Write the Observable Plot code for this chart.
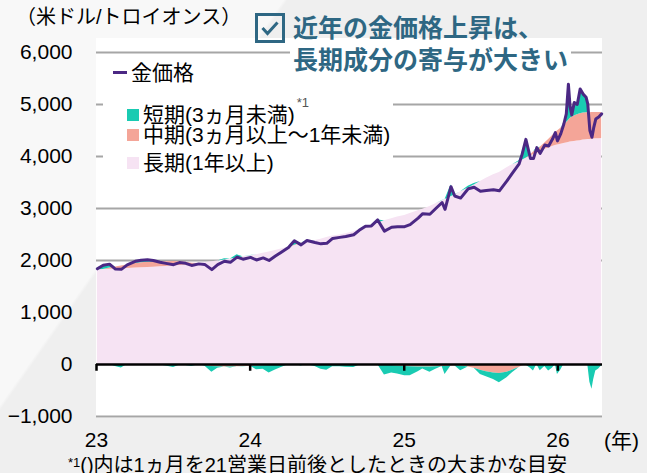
<!DOCTYPE html>
<html><head><meta charset="utf-8">
<script src="https://cdn.jsdelivr.net/npm/d3@7"></script>
<script src="https://cdn.jsdelivr.net/npm/@observablehq/plot@0.6"></script>
<style>
html,body{margin:0;padding:0;}
body{width:647px;height:473px;overflow:hidden;background:#efefef;}
#wrap{position:relative;width:647px;height:473px;overflow:hidden;
  font-family:"Liberation Sans","Noto Sans CJK JP",sans-serif;color:#000;
  background:linear-gradient(125deg,#f8f8f8 0%,#f8f8f8 29%,#efefef 29.4%,#efefef 100%);}
#plotbg{position:absolute;left:96px;top:38px;width:506px;height:380px;background:#fff;}
#chart{position:absolute;left:0;top:0;}
.abs{position:absolute;white-space:nowrap;line-height:1;}
#unit{left:16px;top:7px;font-size:20px;}
#title{left:255px;top:13px;color:#2e6783;font-weight:bold;font-size:25px;z-index:5;}
#t1{position:absolute;left:38px;top:3px;white-space:nowrap;line-height:1;}
#t2{position:absolute;left:35px;top:33px;white-space:nowrap;line-height:1;background:#fff;padding:2px 3px 4px 3px;}
#legend{left:103px;top:58px;width:290px;height:120px;background:#fff;font-size:21px;z-index:2;}
.li{position:absolute;left:0;white-space:nowrap;line-height:1;height:21px;}
.sw{display:inline-block;width:12px;height:12px;margin-right:4px;vertical-align:1px;}
#year{left:604px;top:430px;font-size:21px;}
#foot{left:68px;top:455px;font-size:20px;}
</style></head>
<body><div id="wrap">
<div id="plotbg"></div>
<div id="chart"></div>
<div class="abs" id="unit">（米ドル/トロイオンス）</div>
<div class="abs" id="legend"></div>
<div class="abs" id="title">
 <svg width="31" height="31" style="position:absolute;left:0;top:0"><rect x="1.5" y="1.5" width="27" height="27" fill="none" stroke="#2e6783" stroke-width="3"/><path d="M7.5 15 L12.5 20.5 L22.5 9.5" fill="none" stroke="#2e6783" stroke-width="3"/></svg>
 <div id="t1">近年の金価格上昇は、</div>
 <div id="t2">長期成分の寄与が大きい</div>
</div>
<div class="abs" id="year">(年)</div>
<div class="abs" id="foot"><span style="font-size:13px;vertical-align:5px">*1</span>()内は1ヵ月を21営業日前後としたときの大まかな目安</div>
</div>
<script>
// ---- data ----
const dates = ["2023-01-03","2023-01-17","2023-02-01","2023-02-15","2023-03-01","2023-03-15","2023-04-03","2023-04-17","2023-05-02","2023-05-16","2023-06-01","2023-06-15","2023-07-03","2023-07-17","2023-08-01","2023-08-15","2023-09-01","2023-09-15","2023-10-02","2023-10-16","2023-11-01","2023-11-15","2023-12-01","2023-12-15",
"2024-01-02","2024-01-16","2024-02-01","2024-02-15","2024-03-01","2024-03-15","2024-04-01","2024-04-15","2024-05-01","2024-05-15","2024-06-03","2024-06-17","2024-07-01","2024-07-15","2024-08-01","2024-08-15","2024-09-03","2024-09-16","2024-10-01","2024-10-15","2024-10-30","2024-11-15","2024-12-02","2024-12-16",
"2025-01-02","2025-01-15","2025-02-03","2025-02-14","2025-03-03","2025-03-17","2025-04-01","2025-04-08","2025-04-22","2025-05-01","2025-05-15","2025-06-02","2025-06-16","2025-07-01","2025-07-15","2025-08-01","2025-08-15","2025-09-02","2025-09-15","2025-10-01","2025-10-08","2025-10-17","2025-10-28","2025-11-04","2025-11-12","2025-11-20","2025-12-01","2025-12-10","2025-12-19","2025-12-26","2025-12-31",
"2026-01-08","2026-01-15","2026-01-21","2026-01-26","2026-01-30","2026-02-03","2026-02-09","2026-02-16","2026-02-23","2026-03-02","2026-03-09","2026-03-13","2026-03-18","2026-03-23","2026-03-27","2026-04-01","2026-04-08","2026-04-15"];
const goldPrice = [1840,1910,1930,1835,1830,1915,1985,2005,2015,2000,1965,1945,1920,1960,1945,1905,1935,1925,1825,1920,1985,1965,2065,2025,
2060,2010,2050,2000,2085,2160,2250,2380,2300,2385,2345,2320,2330,2425,2445,2460,2495,2580,2660,2665,2780,2565,2640,2650,
2650,2690,2815,2900,2890,3000,3115,2985,3420,3240,3200,3380,3410,3330,3345,3360,3340,3530,3680,3860,4040,4330,3960,3960,4170,4060,4220,4200,4330,4460,4300,
4440,4620,4820,5390,4960,4800,5040,5000,5300,5200,5140,5010,4500,4370,4550,4720,4760,4820];
const longTerm = [1820,1825,1830,1835,1840,1845,1855,1860,1865,1870,1878,1885,1900,1905,1915,1925,1940,1955,1975,1990,2010,2030,2050,2070,
2090,2110,2140,2165,2190,2220,2255,2285,2320,2350,2385,2410,2440,2470,2490,2515,2555,2595,2640,2680,2720,2765,2805,2835,
2865,2905,2955,2985,3040,3090,3150,3175,3225,3260,3320,3395,3450,3520,3580,3650,3690,3785,3840,3900,3930,3965,4010,4035,4060,4090,4140,4165,4190,4210,4220,
4235,4250,4260,4270,4280,4285,4290,4300,4305,4315,4320,4325,4325,4330,4335,4340,4340,4345];
const midTerm = [-10,0,25,40,55,70,85,95,100,100,95,90,80,70,50,20,0,-20,-40,-45,-50,-50,-45,-40,
-35,-30,-25,-20,-10,0,0,10,10,10,0,-10,-15,-15,-10,-10,-10,-5,0,0,0,-10,-20,-30,
-40,-45,-50,-50,-50,-45,-40,-40,-30,-25,-30,-50,-70,-110,-140,-165,-175,-150,-110,-60,-30,-10,20,50,70,90,120,160,210,250,270,
310,350,390,420,450,470,490,505,515,520,520,520,515,515,510,505,505,500];
const shortTerm = [30,85,75,-40,-65,0,45,50,50,30,-8,-30,-60,-15,-20,-40,-5,-10,-110,-25,25,-15,60,-5,
5,-70,-65,-145,-95,-60,-5,85,-30,25,-40,-80,-95,-30,-35,-45,-50,-10,20,-15,60,-190,-145,-155,
-175,-170,-90,-35,-100,-45,5,-150,225,5,-90,35,30,-80,-95,-125,-175,-105,-50,20,140,375,-70,-125,40,-120,-40,-125,-70,0,-190,
-105,20,170,700,230,45,260,195,480,365,300,165,-340,-475,-295,-125,-85,-25];
const yTicks = [-1000,0,1000,2000,3000,4000,5000,6000];
const gridLines = [-1000,2000,3000,4000,5000,6000];
const yearTicks = ["2023-01-01","2024-01-01","2025-01-01","2026-01-01"];
const yearLabels = ["23","24","25","26"];
const seriesNames = ["金価格","短期(3ヵ月未満)","中期(3ヵ月以上～1年未満)","長期(1年以上)"];
const colors = {line:"#4b2884", short:"#19cbb2", mid:"#f4a598", long:"#f6e3f3", grid:"#a6a6a6"};

// ---- build tables ----
const parse = d3.utcParse("%Y-%m-%d");
const rows = dates.map((d,i)=>({date:parse(d), price:goldPrice[i], L:longTerm[i], M:midTerm[i], S:shortTerm[i]}));
const bands = {long:[], midPos:[], shortPos:[], midNeg:[], shortNeg:[]};
for (const r of rows) {
  const mp = Math.max(r.M,0), sp = Math.max(r.S,0), mn = Math.min(r.M,0), sn = Math.min(r.S,0);
  bands.long.push({date:r.date, y1:0, y2:r.L});
  bands.midPos.push({date:r.date, y1:r.L, y2:r.L+mp});
  bands.shortPos.push({date:r.date, y1:r.L+mp, y2:r.L+mp+sp});
  bands.midNeg.push({date:r.date, y1:0, y2:mn});
  bands.shortNeg.push({date:r.date, y1:mn, y2:mn+sn});
}
const yearDates = yearTicks.map(parse);
const area = (arr, fill) => Plot.areaY(arr, {x:"date", y1:"y1", y2:"y2", fill, curve:"linear"});

const chart = Plot.plot({
  width:647, height:473,
  marginLeft:96, marginRight:45, marginTop:52, marginBottom:57,
  style:{background:"transparent", fontFamily:'"Liberation Sans","Noto Sans CJK JP",sans-serif', fontSize:"21px", color:"#000"},
  x:{type:"utc", domain:[parse("2023-01-01"), parse("2026-04-17")], ticks:yearDates, tickFormat:(d,i)=>yearLabels[i], tickSize:0, tickPadding:16, label:null},
  y:{domain:[-1000,6000], ticks:yTicks, tickFormat:d3.format(","), tickSize:0, tickPadding:24, label:null},
  marks:[
    Plot.ruleY(gridLines, {stroke:colors.grid, strokeWidth:2}),
    area(bands.long, colors.long),
    area(bands.midPos, colors.mid),
    area(bands.shortPos, colors.short),
    area(bands.midNeg, colors.mid),
    area(bands.shortNeg, colors.short),
    Plot.line(rows, {x:"date", y:"price", stroke:colors.line, strokeWidth:3}),
    Plot.ruleY([0], {stroke:"#000", strokeWidth:2.5}),
    Plot.ruleX(yearDates, {y1:0, y2:-130, stroke:"#000", strokeWidth:2.5})
  ]
});
document.getElementById("chart").appendChild(chart);

// legend
const lg = document.getElementById("legend");
const items = [
  {name:seriesNames[0], type:"line", color:colors.line, top:4, left:10},
  {name:seriesNames[1], type:"box", color:colors.short, top:38, left:24, sup:"*1"},
  {name:seriesNames[2], type:"box", color:colors.mid, top:66, left:24},
  {name:seriesNames[3], type:"box", color:colors.long, top:94, left:24}
];
for (const it of items) {
  const el = document.createElement("div");
  el.className = "li";
  el.style.top = it.top + "px";
  el.style.left = it.left + "px";
  const sw = it.type === "line"
    ? `<span style="display:inline-block;width:14px;height:3px;background:${it.color};margin-right:4px;vertical-align:6px"></span>`
    : `<span class="sw" style="background:${it.color}"></span>`;
  el.innerHTML = sw + it.name + (it.sup ? `<span style="font-size:13px;color:#555;vertical-align:15px;margin-left:2px">${it.sup}</span>` : "");
  lg.appendChild(el);
}
</script>
</body></html>
